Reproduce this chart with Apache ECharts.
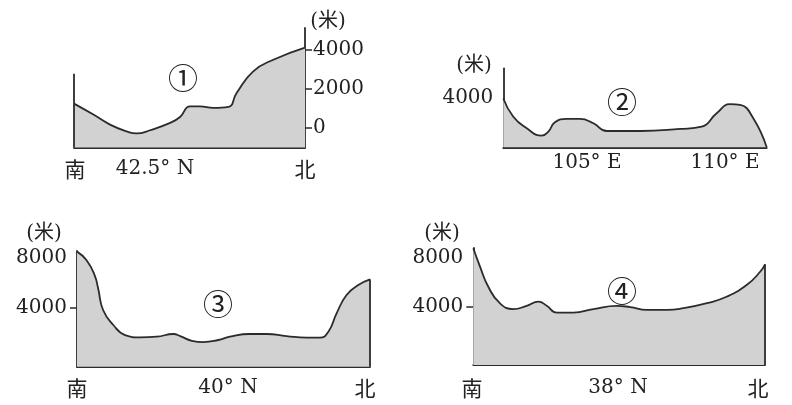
<!DOCTYPE html>
<html>
<head>
<meta charset="utf-8">
<script src="https://cdn.jsdelivr.net/npm/echarts@6/dist/echarts.min.js"></script>
<style>
html,body{margin:0;padding:0;background:#fff;}
#c{width:792px;height:405px;}
</style>
</head>
<body>
<div id="c"></div>
<script>
// Profile ① (42.5° N), distance along section (%) and elevation (m)
const p1X = [0, 8.4, 15.6, 22.8, 27.1, 32.9, 41.6, 45.9, 50.2, 54.5, 60.3, 66.8, 70.4, 77.6, 86.3, 100];
const p1Y = [1240, 680, 170, -180, -280, -120, 255, 560, 1100, 1100, 1020, 1070, 1785, 2890, 3480, 4100];
const p1LeftEdgeTop = 2770;
const p1Ticks = [0, 2000, 4000];

// Profile ② (105° E – 110° E)
const p2X = [0, 3.8, 8.9, 14.6, 17.1, 19.6, 24.0, 29.1, 34.2, 39.3, 51.9, 67.1, 75.3, 81.0, 86.1, 89.9, 94.9, 100];
const p2Y = [3950, 2480, 1540, 940, 1265, 2030, 2295, 2295, 1945, 1320, 1320, 1485, 1670, 2760, 3490, 3430, 2350, 0];
const p2Ticks = [4000];

// Profile ③ (40° N)
const p3X = [0, 3.2, 6.0, 7.2, 8.9, 12.4, 16.4, 21.5, 27.2, 32.9, 35.2, 39.2, 43.1, 48.2, 52.2, 59.0, 64.7, 71.5, 78.3, 82.9, 85.8, 88.6, 92.0, 96.0, 100];
const p3Y = [8450, 7790, 6610, 5570, 3860, 2680, 1890, 1710, 1760, 1970, 1810, 1440, 1340, 1500, 1760, 1970, 1970, 1810, 1680, 1680, 2150, 3600, 5040, 5820, 6270];
const p3Labels = [4000, 8000];
const p3Ticks = [4000];

// Profile ④ (38° N)
const p4X = [0, 2.3, 5.1, 9.1, 13.7, 18.3, 22.3, 25.2, 28.6, 34.3, 41.2, 49.2, 53.8, 59.5, 66.4, 72.1, 80.1, 87.0, 93.8, 98.4, 100];
const p4Y = [8780, 7290, 5670, 4320, 3840, 4105, 4450, 4105, 3560, 3560, 3840, 4105, 4000, 3780, 3780, 3920, 4320, 4860, 5810, 6890, 7480];
const p4Labels = [4000, 8000];
const p4Ticks = [4000];

// Axis ranges
const yRange = [[-1000, 5100], [0, 6400], [-600, 8500], [-700, 8800]];

const zip = (xs, ys) => xs.map((x, i) => [x, ys[i]]);

const INK = '#2b2b2b';
const FILL = '#d2d2d2';
const serif = 'DejaVu Serif, Noto Sans CJK SC';
const cjk = 'Noto Sans CJK SC';

const grids = [
  {left: 74, top: 28, width: 231, height: 119.5},
  {left: 503.3, top: 68.3, width: 263.4, height: 79},
  {left: 77, top: 251, width: 293, height: 115.7},
  {left: 473.3, top: 248, width: 291.7, height: 117}
];

const xAxes = grids.map((g, i) => ({
  type: 'value', gridIndex: i, min: 0, max: 100,
  axisLine: {show: true, onZero: false, lineStyle: {color: INK, width: 1.8}},
  axisTick: {show: false}, axisLabel: {show: false}, splitLine: {show: false}
}));

function yAxis(i, pos, labels, ticks, showLine) {
  return {
    type: 'value', gridIndex: i, position: pos,
    min: yRange[i][0], max: yRange[i][1],
    axisLine: {show: showLine, onZero: false, lineStyle: {color: INK, width: 1.8}},
    axisTick: {show: ticks.length > 0, customValues: ticks, length: 7, inside: false,
      lineStyle: {color: INK, width: 1.5}},
    axisLabel: {show: true, customValues: labels, margin: pos === 'right' ? 8 : 10,
      formatter: v => String(v),
      fontFamily: serif, fontSize: 20, color: '#222'},
    splitLine: {show: false}
  };
}

const yAxes = [
  yAxis(0, 'right', p1Ticks, p1Ticks, true),
  yAxis(1, 'left', p2Ticks, [], true),
  yAxis(2, 'left', p3Labels, p3Ticks, true),
  yAxis(3, 'left', p4Labels, p4Ticks, true)
];

function profile(i, xs, ys) {
  return {
    type: 'line', xAxisIndex: i, yAxisIndex: i, data: zip(xs, ys),
    smooth: 0.5, symbol: 'none', silent: true,
    lineStyle: {color: INK, width: 1.8},
    areaStyle: {color: FILL, opacity: 1, origin: 'start'},
    z: 2
  };
}
function edge(i, x, y0, y1) {
  return {
    type: 'line', xAxisIndex: i, yAxisIndex: i, data: [[x, y0], [x, y1]],
    symbol: 'none', silent: true, lineStyle: {color: INK, width: 1.8}, z: 3
  };
}

const series = [
  profile(0, p1X, p1Y),
  edge(0, 0, yRange[0][0], p1LeftEdgeTop),
  profile(1, p2X, p2Y),
  profile(2, p3X, p3Y),
  edge(2, 100, yRange[2][0], p3Y[p3Y.length - 1]),
  profile(3, p4X, p4Y),
  edge(3, 100, yRange[3][0], p4Y[p4Y.length - 1])
];

function txt(x, y, s, size, font) {
  return {type: 'text', x: x, y: y, silent: true,
    style: {text: s, fontSize: size, fontFamily: font, fill: '#222', align: 'center', verticalAlign: 'middle'}};
}

const texts = [
  // panel 1
  txt(328, 22, '(米)', 20, serif),
  txt(183, 78, '①', 30, cjk),
  txt(75, 169, '南', 21, cjk),
  txt(155, 169, '42.5° N', 20, serif),
  txt(305, 169, '北', 21, cjk),
  // panel 2
  txt(474, 66, '(米)', 20, serif),
  txt(622, 102, '②', 30, cjk),
  txt(587, 163, '105° E', 20, serif),
  txt(725, 163, '110° E', 20, serif),
  // panel 3
  txt(44, 234, '(米)', 20, serif),
  txt(218, 304, '③', 30, cjk),
  txt(77, 388, '南', 21, cjk),
  txt(228, 388, '40° N', 20, serif),
  txt(365, 388, '北', 21, cjk),
  // panel 4
  txt(442, 234, '(米)', 20, serif),
  txt(622, 291, '④', 30, cjk),
  txt(472, 388, '南', 21, cjk),
  txt(618, 388, '38° N', 20, serif),
  txt(758, 388, '北', 21, cjk)
];

const chart = echarts.init(document.getElementById('c'), null, {renderer: 'canvas'});
chart.setOption({
  animation: false,
  backgroundColor: '#fff',
  grid: grids,
  xAxis: xAxes,
  yAxis: yAxes,
  series: series,
  graphic: texts
});
</script>
</body>
</html>
